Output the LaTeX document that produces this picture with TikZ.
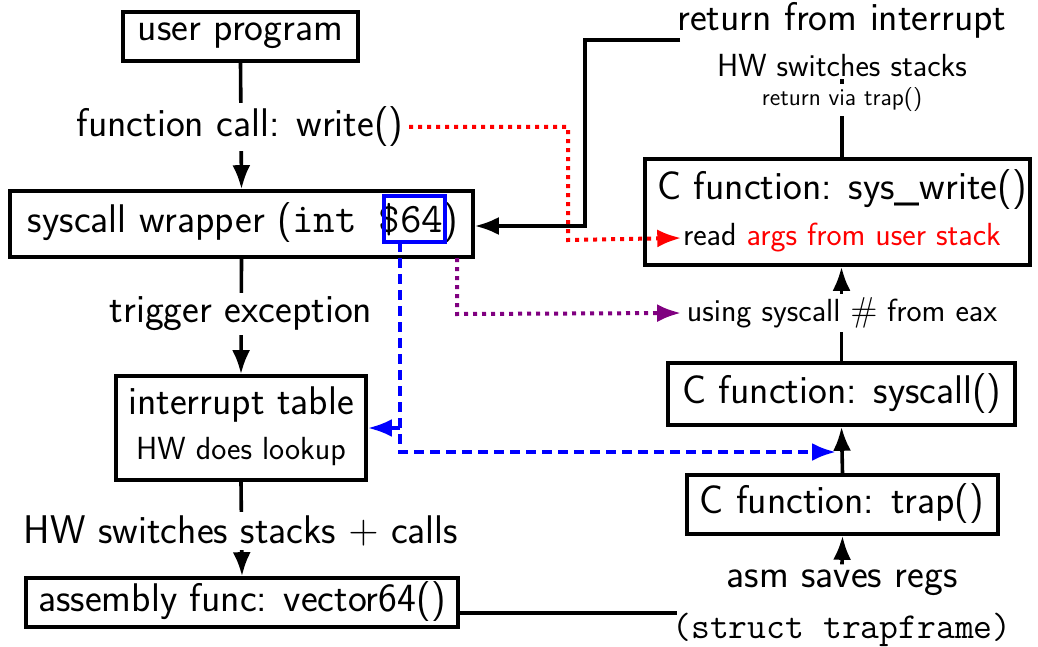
\documentclass[tikz,border=0pt]{standalone}
\usetikzlibrary{arrows.meta}
\tikzset{
  every picture/.style={line width=1.8pt},
  bigtxt/.style={font=\sffamily\fontsize{20}{24}\selectfont, inner sep=0pt},
  medtxt/.style={font=\sffamily\fontsize{16}{19}\selectfont, inner sep=0pt},
  smalltxt/.style={font=\sffamily\fontsize{12}{14}\selectfont, inner sep=0pt},
  box/.style={draw, line width=1.8pt, inner sep=0pt},
  arr/.style={-{Latex[length=12pt,width=9pt]}, line width=1.8pt},
  reddot/.style={red, line width=2pt, dash pattern=on 2pt off 2.5pt, -{Latex[length=12pt,width=9pt]}},
  purpdot/.style={line width=2pt, dash pattern=on 2pt off 2.5pt, -{Latex[length=12pt,width=9pt]}},
  bluedash/.style={blue, line width=2pt, dash pattern=on 5pt off 3pt, -{Latex[length=12pt,width=9pt]}},
}
\definecolor{purp}{RGB}{128,0,128}
\newcommand{\ttx}[1]{{\ttfamily\fontsize{18.3}{21}\selectfont #1}}
\newcommand{\ttw}[1]{{\ttfamily\fontsize{21}{24}\selectfont #1}}
\begin{document}
\begin{tikzpicture}[x=0.5pt, y=-0.5pt]
\useasboundingbox (0,0) rectangle (1038,647);
% boxes
\node[box, minimum width=117.5pt, minimum height=24.5pt] (user) at (240.5,36.5) {};
\node[bigtxt] (usertxt) at (240.5,36) {user program};
\node[box, minimum width=231.5pt, minimum height=33pt] (wrap) at (241.5,224) {};
\node[bigtxt] (wraptxt) at (243,223) {syscall wrapper (\ttw{int \$64})};
\node[draw=blue, line width=1.8pt, minimum width=30.5pt, minimum height=23pt, inner sep=0pt] (b64) at (414.5,219) {};
\node[box, minimum width=125pt, minimum height=52pt] (itab) at (241,428) {};
\node[bigtxt] (itab1) at (241,405) {interrupt table};
\node[medtxt] (itab2) at (241,452) {HW does lookup};
\node[box, minimum width=216pt, minimum height=24.5pt] (asm) at (242,602.5) {};
\node[bigtxt] (asmtxt) at (242,602) {assembly func: vector64()};
\node[box, minimum width=192.5pt, minimum height=53pt] (sw) at (837.5,212) {};
\node[bigtxt] (sw1) at (842,190) {C function: sys\_write()};
\node[medtxt] (sw2) at (842,238) {read \textcolor{red}{args from user stack}};
\node[box, minimum width=173.5pt, minimum height=31pt] (sc) at (841.5,394) {};
\node[bigtxt] (sctxt) at (842,394) {C function: syscall()};
\node[box, minimum width=155.5pt, minimum height=29.5pt] (trap) at (842.5,504.5) {};
\node[bigtxt] (traptxt) at (842,504) {C function: trap()};
% labels
\node[bigtxt, inner sep=2pt] (fc) at (240,127) {function call: write()};
\node[bigtxt, inner sep=2pt] (te) at (241,314) {trigger exception};
\node[bigtxt, inner sep=2pt] (hws) at (241,531) {HW switches stacks $+$ calls};
\node[bigtxt] (rfi) at (842,20) {return from interrupt};
\node[medtxt] (hwss) at (842,66) {HW switches stacks};
\node[medtxt, inner sep=2pt] (using) at (842,313) {using syscall $\#$ from eax};
\node[bigtxt, fill=white, inner sep=2pt] (asr) at (842,583) {asm saves regs};
\node[inner sep=0pt] (stf) at (842,630) {\ttx{(struct trapframe)}};
% coordinates
\coordinate (rfiend) at (680,40);
\coordinate (purpstart) at (457,258);
\coordinate (bluestart) at (400,242);
\coordinate (bluebranch) at (400,428);
\coordinate (bluecorner) at (400,452);
\coordinate (bluetip) at (836,452);
% black connectors
\draw[arr] (user.south) -- (wrap.north);
\node[bigtxt, fill=white, inner sep=2pt] at (fc) {function call: write()};
\draw[arr] (wrap.south) -- (itab.north);
\node[bigtxt, fill=white, inner sep=2pt] at (te) {trigger exception};
\draw[arr] (itab.south) -- (asm.north);
\node[bigtxt, fill=white, inner sep=2pt] at (hws) {HW switches stacks $+$ calls};
\draw (asm.east |- 0,613) -- (677,613);
\draw[arr] (asr.north) -- (trap.south);
\draw[arr] (trap.north) -- (sc.north |- sc.south);
\draw[arr] (sc.north) -- (sw.south -| sc.north);
\node[medtxt, fill=white, inner sep=2pt] at (using) {using syscall $\#$ from eax};
\draw (sw.north -| hwss) -- (hwss.south);
\node[smalltxt, fill=white, inner sep=2pt] (rvt) at (842,100) {return via trap()};
\draw[arr] (rfiend) -- (585,40) -- (585,226) -- (wrap.east |- 0,226);
% coloured connectors
\draw[reddot] (fc.east) -- (568,127) -- (568,240) -- (sw2.west);
\draw[purpdot, draw=purp, color=purp] (purpstart) -- (457,314) -- (using.west);
\draw[bluedash] (bluestart) -- (bluecorner) -- (bluetip);
\draw[bluedash] (bluebranch) -- (itab.east |- bluebranch);
\end{tikzpicture}
\end{document}
